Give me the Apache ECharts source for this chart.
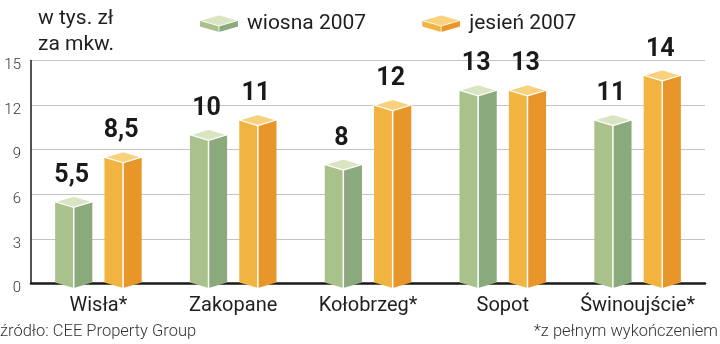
<!DOCTYPE html>
<html>
<head>
<meta charset="utf-8">
<script src="https://cdn.jsdelivr.net/npm/echarts@6/dist/echarts.min.js"></script>
<style>
html,body{margin:0;padding:0;background:#fff;}
#chart{width:720px;height:344px;}
</style>
</head>
<body>
<div id="chart"></div>
<script>
const categories = ['Wisła*', 'Zakopane', 'Kołobrzeg*', 'Sopot', 'Świnoujście*'];
const seriesNames = ['wiosna 2007', 'jesień 2007'];
const spring2007 = [5.5, 10, 8, 13, 11];
const autumn2007 = [8.5, 11, 12, 13, 14];
const yTicks = [0, 3, 6, 9, 12, 15];

const palettes = [
  { light: '#a9c28b', dark: '#8aa97d', top: '#d9e5c2' },
  { light: '#f2b440', dark: '#e8962a', top: '#f8d17f' }
];

function iconFor(p) {
  const svg = '<svg xmlns="http://www.w3.org/2000/svg" width="38" height="17" viewBox="0 0 38 17">' +
    '<polygon points="0,5.5 19,11 19,17 0,11.5" fill="' + p.light + '"/>' +
    '<polygon points="19,11 38,5.5 38,11.5 19,17" fill="' + p.dark + '"/>' +
    '<polygon points="0,5.5 19,0 38,5.5 19,11" fill="' + p.top + '" stroke="#fff" stroke-width="0.8"/>' +
    '<line x1="19" y1="11" x2="19" y2="17" stroke="#fff" stroke-width="0.8"/>' +
    '</svg>';
  return 'image://data:image/svg+xml;charset=utf-8,' + encodeURIComponent(svg);
}

function makeRender(sIdx) {
  const p = palettes[sIdx];
  return function (params, api) {
    const cat = api.value(0), val = api.value(1);
    const band = api.size([1, 0])[0];
    const off = (sIdx === 0 ? -1 : 1) * band * 0.183;
    const hw = band * 0.138;
    const d = hw * 0.3;
    const t = api.coord([cat, val]);
    const b = api.coord([cat, 0]);
    const cx = t[0] + off, yt = t[1], yb = b[1] - 1;
    const label = String(val).replace('.', ',');
    return {
      type: 'group',
      children: [
        { type: 'polygon', shape: { points: [[cx - hw, yt], [cx, yt + d], [cx, yb + d], [cx - hw, yb]] }, style: { fill: p.light } },
        { type: 'polygon', shape: { points: [[cx, yt + d], [cx + hw, yt], [cx + hw, yb], [cx, yb + d]] }, style: { fill: p.dark } },
        { type: 'polygon', shape: { points: [[cx - hw, yt], [cx, yt - d], [cx + hw, yt], [cx, yt + d]] }, style: { fill: p.top, stroke: '#fff', lineWidth: 1.2 } },
        { type: 'line', shape: { x1: cx, y1: yt + d, x2: cx, y2: yb + d }, style: { stroke: '#fff', lineWidth: 1.5 } },
        { type: 'text', x: cx - 2, y: yt - d - 8, style: { text: label, fill: '#1a1a1a', font: 'bold 25px Roboto, "Liberation Sans", sans-serif', textAlign: 'center', textVerticalAlign: 'bottom' } }
      ]
    };
  };
}

const chart = echarts.init(document.getElementById('chart'));
chart.setOption({
  animation: false,
  backgroundColor: '#fff',
  title: {
    text: 'w tys. zł\nza mkw.',
    left: 33, top: 1,
    textStyle: { fontFamily: 'Roboto, sans-serif', fontSize: 21, fontWeight: 'normal', color: '#1f1f1f', lineHeight: 26 }
  },
  legend: {
    left: 195, top: 8,
    itemWidth: 38, itemHeight: 17, itemGap: 56,
    textStyle: { fontFamily: 'Roboto, sans-serif', fontSize: 21, color: '#1f1f1f', padding: [0, 0, 0, 4] },
    data: [
      { name: seriesNames[0], icon: iconFor(palettes[0]) },
      { name: seriesNames[1], icon: iconFor(palettes[1]) }
    ]
  },
  grid: { left: 31, right: 15, top: 60.5, bottom: 60.5 },
  xAxis: {
    type: 'category',
    data: categories,
    boundaryGap: true,
    axisLine: { lineStyle: { color: '#1a1a1a', width: 2.5 } },
    axisTick: { show: false },
    axisLabel: { interval: 0, margin: 12, fontFamily: 'Roboto, sans-serif', fontSize: 20, color: '#1f1f1f' }
  },
  yAxis: {
    type: 'value', min: 0, max: 15, interval: 3,
    axisLine: { show: true, lineStyle: { color: '#1a1a1a', width: 1.5 } },
    axisTick: { show: false },
    splitLine: { lineStyle: { color: '#c4c4c4', width: 1 } },
    axisLabel: {
      margin: 10, fontFamily: 'Roboto, sans-serif', fontWeight: 300, fontSize: 15, color: '#333',
      verticalAlign: 'top', lineHeight: 10,
      formatter: v => (yTicks.indexOf(v) >= 0 ? String(v) : '')
    }
  },
  graphic: [
    { type: 'text', left: 0, bottom: 4, style: { text: 'źródło: CEE Property Group', fill: '#333', font: '300 16.5px Roboto, sans-serif' } },
    { type: 'text', right: 2, bottom: 4, style: { text: '*z pełnym wykończeniem', fill: '#333', font: '300 16.5px Roboto, sans-serif' } }
  ],
  series: [
    { name: seriesNames[0], type: 'custom', renderItem: makeRender(0), encode: { x: 0, y: 1 }, itemStyle: { color: palettes[0].light },
      data: spring2007.map((v, i) => [i, v]), z: 5 },
    { name: seriesNames[1], type: 'custom', renderItem: makeRender(1), encode: { x: 0, y: 1 }, itemStyle: { color: palettes[1].light },
      data: autumn2007.map((v, i) => [i, v]), z: 5 }
  ]
});
</script>
</body>
</html>
